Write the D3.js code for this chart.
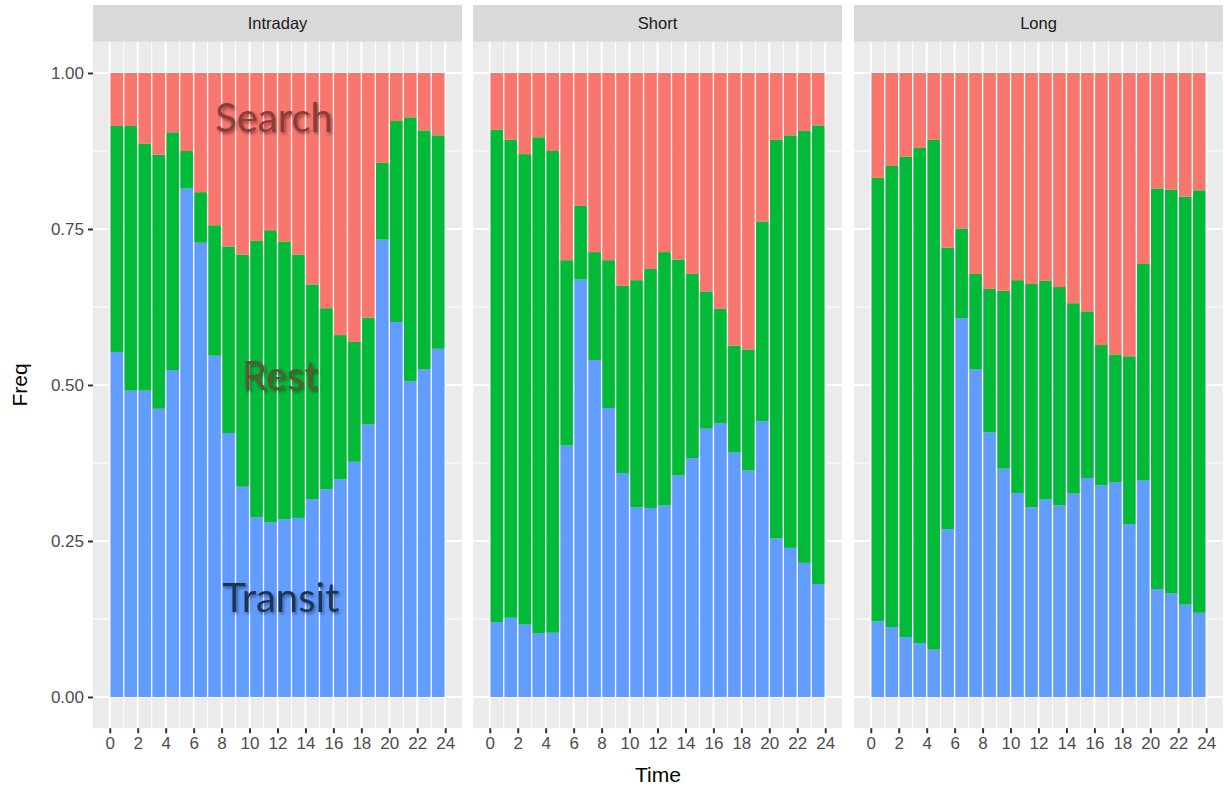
<!DOCTYPE html>
<html lang="en">
<head>
    <meta charset="UTF-8">
    <title>Freq by Time</title>
    <script src="https://d3js.org/d3.v7.min.js"></script>
    <style>
        body { margin: 0; background: #fff; }
    </style>
</head>
<body>

<script>

    // hour of day, bars sit at hour + 0.5
    var hours = d3.range(24);
    var panels = ["Intraday", "Short", "Long"];
    var states = ["Transit", "Rest", "Search"];   // bottom to top
    var stateColors = ["#619CFF", "#00BA38", "#F8766D"];

    var intradayTransit = [0.553,0.491,0.491,0.462,0.524,0.815,0.728,0.547,0.423,0.337,0.288,0.280,0.285,0.287,0.317,0.333,0.349,0.377,0.437,0.733,0.601,0.506,0.525,0.558];
    var intradayRest    = [0.362,0.424,0.396,0.407,0.381,0.060,0.081,0.209,0.299,0.372,0.443,0.468,0.445,0.422,0.344,0.290,0.231,0.192,0.171,0.123,0.322,0.423,0.383,0.342];
    var intradaySearch  = [0.085,0.085,0.113,0.131,0.095,0.125,0.191,0.244,0.278,0.291,0.269,0.252,0.270,0.291,0.339,0.377,0.420,0.431,0.392,0.144,0.077,0.071,0.092,0.100];

    var shortTransit = [0.120,0.127,0.116,0.102,0.103,0.403,0.669,0.540,0.463,0.359,0.304,0.303,0.307,0.355,0.383,0.430,0.439,0.392,0.363,0.442,0.254,0.239,0.215,0.181];
    var shortRest    = [0.789,0.766,0.754,0.795,0.772,0.297,0.118,0.173,0.237,0.300,0.364,0.383,0.406,0.346,0.295,0.220,0.183,0.171,0.194,0.320,0.639,0.661,0.692,0.735];
    var shortSearch  = [0.091,0.107,0.130,0.103,0.125,0.300,0.213,0.287,0.300,0.341,0.332,0.314,0.287,0.299,0.322,0.350,0.378,0.437,0.443,0.238,0.107,0.100,0.093,0.084];

    var longTransit = [0.121,0.112,0.096,0.086,0.076,0.269,0.607,0.525,0.424,0.366,0.327,0.304,0.317,0.307,0.326,0.351,0.339,0.344,0.277,0.347,0.173,0.166,0.148,0.135];
    var longRest    = [0.711,0.739,0.770,0.794,0.817,0.451,0.144,0.153,0.230,0.285,0.341,0.358,0.350,0.350,0.305,0.267,0.225,0.205,0.269,0.347,0.642,0.647,0.654,0.677];
    var longSearch  = [0.168,0.149,0.134,0.120,0.107,0.280,0.249,0.322,0.346,0.349,0.332,0.338,0.333,0.343,0.369,0.382,0.436,0.451,0.454,0.306,0.185,0.187,0.198,0.188];

    var xTicks = [0, 2, 4, 6, 8, 10, 12, 14, 16, 18, 20, 22, 24];
    var xMinor = [1, 3, 5, 7, 9, 11, 13, 15, 17, 19, 21, 23];
    var yTicks = [0, 0.25, 0.5, 0.75, 1];
    var yMinor = [0.125, 0.375, 0.625, 0.875];

    // text written onto the first panel (x in hours, y = baseline in Freq units)
    var labels = [
        {text: "Search",  x: 11.75, y: 0.905, color: "#8c3c38"},
        {text: "Rest",    x: 12.2,  y: 0.492, color: "#5a5a32"},
        {text: "Transit", x: 12.25, y: 0.137, color: "#1b3557"}
    ];

    var seriesByPanel = {
        "Intraday": [intradayTransit, intradayRest, intradaySearch],
        "Short":    [shortTransit, shortRest, shortSearch],
        "Long":     [longTransit, longRest, longSearch]
    };

    var W = 1225, H = 790;
    var panelLeft = [93, 473, 854];
    var panelW = 369;
    var panelTop = 41.8, panelBottom = 728.2;
    var stripTop = 5;

    var svg = d3.select("body").append("svg")
        .attr("width", W)
        .attr("height", H)
        .style("font-family", "'Liberation Sans', Arial, sans-serif");

    var defs = svg.append("defs");
    var f = defs.append("filter").attr("id", "shadow")
        .attr("x", "-20%").attr("y", "-30%").attr("width", "140%").attr("height", "160%");
    f.append("feDropShadow").attr("dx", 1.5).attr("dy", 2)
        .attr("stdDeviation", 1.5).attr("flood-color", "#000").attr("flood-opacity", 0.4);

    var yScale = d3.scaleLinear().domain([-0.05, 1.05]).range([panelBottom, panelTop]);

    var stack = d3.stack().keys(d3.range(states.length));

    panels.forEach(function (name, pi) {
        var x0 = panelLeft[pi];
        var xScale = d3.scaleLinear().domain([-1.2, 25.2]).range([x0, x0 + panelW]);
        var series = seriesByPanel[name];
        var g = svg.append("g");

        // strip
        g.append("rect")
            .attr("x", x0).attr("y", stripTop)
            .attr("width", panelW).attr("height", panelTop - stripTop)
            .attr("fill", "#D9D9D9");
        g.append("text")
            .attr("x", x0 + panelW / 2).attr("y", (stripTop + panelTop) / 2)
            .attr("text-anchor", "middle").attr("dy", "0.35em")
            .attr("font-size", 16.5).attr("fill", "#1A1A1A")
            .text(name);

        // panel background
        g.append("rect")
            .attr("x", x0).attr("y", panelTop)
            .attr("width", panelW).attr("height", panelBottom - panelTop)
            .attr("fill", "#EBEBEB");

        // grid
        g.selectAll(".ymin").data(yMinor).enter().append("line")
            .attr("x1", x0).attr("x2", x0 + panelW)
            .attr("y1", function (d) { return yScale(d); })
            .attr("y2", function (d) { return yScale(d); })
            .attr("stroke", "#fff").attr("stroke-width", 1);
        g.selectAll(".xmin").data(xMinor).enter().append("line")
            .attr("y1", panelTop).attr("y2", panelBottom)
            .attr("x1", function (d) { return xScale(d); })
            .attr("x2", function (d) { return xScale(d); })
            .attr("stroke", "#fff").attr("stroke-width", 1);
        g.selectAll(".ymaj").data(yTicks).enter().append("line")
            .attr("x1", x0).attr("x2", x0 + panelW)
            .attr("y1", function (d) { return yScale(d); })
            .attr("y2", function (d) { return yScale(d); })
            .attr("stroke", "#fff").attr("stroke-width", 2);
        g.selectAll(".xmaj").data(xTicks).enter().append("line")
            .attr("y1", panelTop).attr("y2", panelBottom)
            .attr("x1", function (d) { return xScale(d); })
            .attr("x2", function (d) { return xScale(d); })
            .attr("stroke", "#fff").attr("stroke-width", 2);

        // stacked bars
        var rows = hours.map(function (h) {
            return series.map(function (s) { return s[h]; });
        });
        var stacked = stack(rows);
        var bw = (xScale(0.9) - xScale(0));

        stacked.forEach(function (layer, si) {
            g.selectAll(".bar" + si).data(layer).enter().append("rect")
                .attr("x", function (d, i) { return xScale(hours[i] + 0.5) - bw / 2; })
                .attr("width", bw)
                .attr("y", function (d) { return yScale(d[1]); })
                .attr("height", function (d) { return yScale(d[0]) - yScale(d[1]); })
                .attr("fill", stateColors[si]);
        });

        // x axis
        var xAxis = d3.axisBottom(xScale).tickValues(xTicks).tickSize(5).tickPadding(4);
        var ax = g.append("g").attr("transform", "translate(0," + panelBottom + ")").call(xAxis);
        ax.select(".domain").remove();
        ax.selectAll("line").attr("stroke", "#333").attr("stroke-width", 2);
        ax.selectAll("text").attr("font-size", 17).attr("fill", "#4D4D4D")
            .style("font-family", "'Liberation Sans', Arial, sans-serif");

        if (pi === 0) {
            var yAxis = d3.axisLeft(yScale).tickValues(yTicks).tickSize(5).tickPadding(4)
                .tickFormat(d3.format(".2f"));
            var ay = g.append("g").attr("transform", "translate(" + x0 + ",0)").call(yAxis);
            ay.select(".domain").remove();
            ay.selectAll("line").attr("stroke", "#333").attr("stroke-width", 2);
            ay.selectAll("text").attr("font-size", 17).attr("fill", "#4D4D4D")
                .style("font-family", "'Liberation Sans', Arial, sans-serif");

            g.selectAll(".lab").data(labels).enter().append("text")
                .attr("x", function (d) { return xScale(d.x); })
                .attr("y", function (d) { return yScale(d.y); })
                .attr("text-anchor", "middle")
                .attr("font-family", "Lato, 'Open Sans', sans-serif")
                .attr("font-size", 40)
                .attr("fill", function (d) { return d.color; })
                .attr("filter", "url(#shadow)")
                .text(function (d) { return d.text; });
        }
    });

    // axis titles
    svg.append("text")
        .attr("x", (panelLeft[0] + panelLeft[2] + panelW) / 2).attr("y", 782)
        .attr("text-anchor", "middle").attr("font-size", 21).attr("fill", "#000")
        .text("Time");
    svg.append("text")
        .attr("transform", "translate(27," + ((panelTop + panelBottom) / 2) + ") rotate(-90)")
        .attr("text-anchor", "middle").attr("font-size", 21).attr("fill", "#000")
        .text("Freq");

</script>

</body>
</html>
